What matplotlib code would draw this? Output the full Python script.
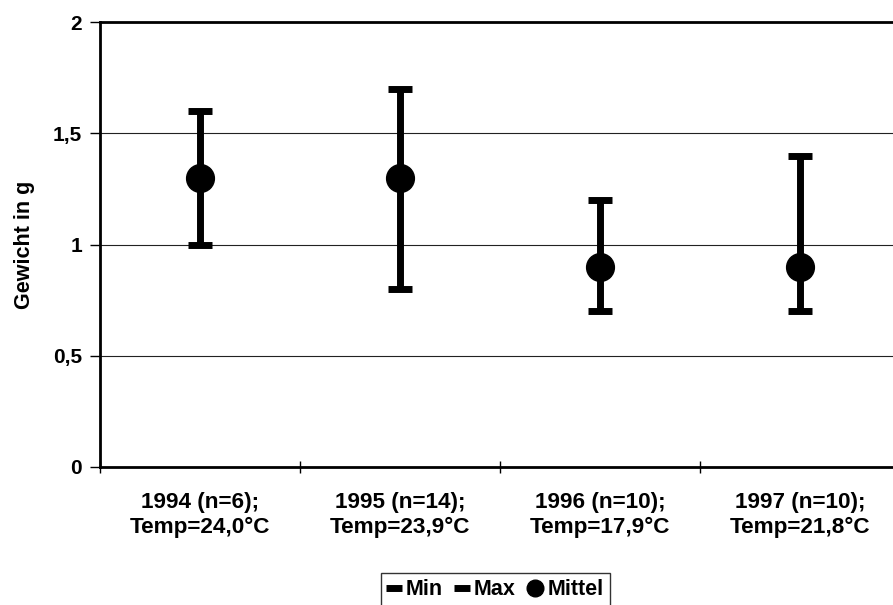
import matplotlib
matplotlib.use("Agg")
import matplotlib.pyplot as plt
from matplotlib.lines import Line2D

# Daten
kategorien = ['1994 (n=6);\nTemp=24,0°C', '1995 (n=14);\nTemp=23,9°C',
              '1996 (n=10);\nTemp=17,9°C', '1997 (n=10);\nTemp=21,8°C']
minimum = [1.0, 0.8, 0.7, 0.7]
maximum = [1.6, 1.7, 1.2, 1.4]
mittel = [1.3, 1.3, 0.9, 0.9]
y_ticks = [0, 0.5, 1, 1.5, 2]
y_labels = ['0', '0,5', '1', '1,5', '2']

plt.rcParams['font.family'] = ['Liberation Sans', 'DejaVu Sans']
plt.rcParams['font.weight'] = 'bold'

fig = plt.figure(figsize=(8.93, 6.05), dpi=100)
# Achse ragt rechts etwas aus dem Bild (wie im Original abgeschnitten)
ax = fig.add_axes([100 / 893, 1 - 467 / 605, 800 / 893, 445 / 605])

x = list(range(len(kategorien)))

# Gitterlinien
for y in [0.5, 1, 1.5]:
    ax.axhline(y, color='#222222', linewidth=0.8, zorder=0)

# Hoch-Tief-Linien
ax.vlines(x, minimum, maximum, color='black', linewidth=5, zorder=2)
ax.plot(x, minimum, linestyle='none', marker='_', markersize=17, mew=5, color='black', zorder=3)
ax.plot(x, maximum, linestyle='none', marker='_', markersize=17, mew=5, color='black', zorder=3)
ax.plot(x, mittel, linestyle='none', marker='o', markersize=20, color='black', zorder=4)

ax.set_xlim(-0.5, 3.5)
ax.set_ylim(0, 2)

ax.set_yticks(y_ticks)
ax.set_yticklabels(y_labels, fontsize=15, fontweight='bold')
ax.set_xticks([-0.5, 0.5, 1.5, 2.5, 3.5])
ax.set_xticklabels([])
ax.set_xticks(x, minor=True)
ax.set_xticklabels(kategorien, minor=True, fontsize=16.2, fontweight='bold', linespacing=1.25)
ax.tick_params(axis='x', which='major', direction='inout', length=9, width=1)
ax.tick_params(axis='x', which='minor', length=0, pad=18)
ax.tick_params(axis='y', direction='out', length=7, width=1, pad=6)

ax.set_ylabel('Gewicht in g', fontsize=15.5, fontweight='bold', labelpad=13)

for s in ['left', 'bottom', 'top']:
    ax.spines[s].set_linewidth(2)
ax.spines['right'].set_visible(False)

# Legende
handles = [
    Line2D([], [], linestyle='none', marker='_', markersize=11, mew=5, color='black'),
    Line2D([], [], linestyle='none', marker='_', markersize=11, mew=5, color='black'),
    Line2D([], [], linestyle='none', marker='o', markersize=12, color='black'),
]
leg = fig.legend(handles, ['Min', 'Max', 'Mittel'], loc='upper left',
                 bbox_to_anchor=(381 / 893, 1 - 573 / 605), ncol=3,
                 frameon=True, fancybox=False, edgecolor='black',
                 prop={'size': 15.5, 'weight': 'bold'},
                 handlelength=0.6, handletextpad=0.25, columnspacing=0.6,
                 borderpad=0.3, borderaxespad=0)
leg.get_frame().set_linewidth(1)

fig.savefig('out.png', dpi=100)
